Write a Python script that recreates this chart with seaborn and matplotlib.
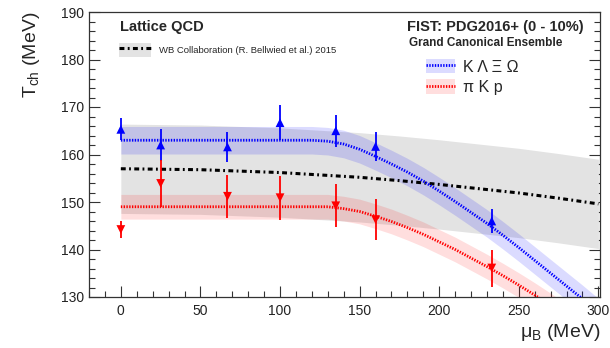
import matplotlib
matplotlib.use("Agg")
import numpy as np
import pandas as pd
import matplotlib.pyplot as plt
import seaborn as sns
from matplotlib.patches import Patch
from matplotlib.lines import Line2D
from matplotlib.ticker import MultipleLocator
from matplotlib.legend_handler import HandlerTuple

# ---------------- data ----------------
mu_points = [0, 25, 67, 100, 135, 160, 233]
T_strange = [165.3, 162.0, 161.6, 166.7, 165.0, 161.7, 146.0]
err_strange = [2.3, 3.3, 3.1, 3.7, 3.4, 3.0, 2.5]
T_light = [144.2, 153.9, 151.2, 150.9, 149.2, 146.3, 136.1]
err_light = [1.8, 4.9, 4.5, 4.6, 4.5, 4.4, 3.9]

mu_curve = [0, 10, 20, 30, 40, 50, 60, 70, 80, 90, 100, 110, 120, 130, 140, 150,
            160, 170, 180, 190, 200, 210, 220, 230, 240, 250, 260, 270, 280, 290, 300]
T_strange_curve = [163.0, 163.0, 163.0, 163.0, 163.0, 163.0, 163.0, 163.0, 163.0, 163.0,
                   163.0, 163.0, 163.0, 162.8, 162.2, 161.1, 159.6, 158.0, 156.3, 154.4,
                   152.3, 150.1, 147.8, 145.5, 143.0, 140.4, 137.7, 135.0, 132.3, 129.6, 126.8]
T_light_curve = [149.0, 149.0, 149.0, 149.0, 149.0, 149.0, 149.0, 149.0, 149.0, 149.0,
                 149.0, 149.0, 149.0, 149.0, 148.6, 148.0, 147.0, 145.9, 144.6, 143.2,
                 141.6, 140.0, 138.2, 136.4, 134.5, 132.5, 130.4, 128.2, 125.9, 123.5, 121.0]
strange_halfwidth = 2.9
light_halfwidth = 2.6

mu_lattice = [0, 25, 50, 75, 100, 125, 150, 175, 200, 225, 250, 275, 300]
T_lattice = [157.0, 156.9, 156.8, 156.5, 156.2, 155.7, 155.2, 154.5, 153.7, 152.8, 151.9, 150.8, 149.6]
lattice_halfwidth = 9.4

x_ticks = [0, 50, 100, 150, 200, 250, 300]
y_ticks = [130, 140, 150, 160, 170, 180, 190]

# ---------------- style ----------------
sns.set_theme(style="ticks")
plt.rcParams["font.family"] = ["Liberation Sans", "DejaVu Sans"]
plt.rcParams["mathtext.fontset"] = "custom"
plt.rcParams["mathtext.rm"] = "Liberation Sans"
plt.rcParams["mathtext.it"] = "Liberation Sans:italic"

W, H = 610, 348
fig = plt.figure(figsize=(W / 100, H / 100), dpi=100)
ax = fig.add_axes([89 / W, 1 - 297 / H, 511 / W, 285 / H])

def fx(px):
    return px / W

def fy(py):
    return 1 - py / H

df_lat = pd.DataFrame({"mu": mu_lattice, "T": T_lattice})
df_lat["lo"] = df_lat["T"] - lattice_halfwidth
df_lat["hi"] = df_lat["T"] + lattice_halfwidth
df_s = pd.DataFrame({"mu": mu_curve, "T": T_strange_curve})
df_l = pd.DataFrame({"mu": mu_curve, "T": T_light_curve})

gray_col = "#e3e3e3"
blue_band = (0.0, 0.0, 1.0, 0.14)
red_band = (1.0, 0.0, 0.0, 0.13)
lat_dash = (1.6, 1.1, 0.6, 1.1)
dot = (0.5, 0.5)

ax.fill_between(df_lat["mu"], df_lat["lo"], df_lat["hi"], color=gray_col, lw=0, zorder=1)
ax.fill_between(df_s["mu"], df_s["T"] - strange_halfwidth, df_s["T"] + strange_halfwidth,
                color=blue_band, lw=0, zorder=2)
ax.fill_between(df_l["mu"], df_l["T"] - light_halfwidth, df_l["T"] + light_halfwidth,
                color=red_band, lw=0, zorder=2)

sns.lineplot(data=df_lat, x="mu", y="T", ax=ax, color="black", lw=2.2,
             zorder=3, estimator=None, sort=False)
ax.lines[-1].set_dashes(lat_dash)
sns.lineplot(data=df_s, x="mu", y="T", ax=ax, color="#0000ff", lw=2.0,
             zorder=4, estimator=None, sort=False)
ax.lines[-1].set_dashes(dot)
sns.lineplot(data=df_l, x="mu", y="T", ax=ax, color="#ff0000", lw=2.0,
             zorder=4, estimator=None, sort=False)
ax.lines[-1].set_dashes(dot)

ax.errorbar(mu_points, T_strange, yerr=err_strange, fmt="none", ecolor="#0000ff",
            elinewidth=1.3, capsize=0, zorder=5)
ax.errorbar(mu_points, T_light, yerr=err_light, fmt="none", ecolor="#ff0000",
            elinewidth=1.3, capsize=0, zorder=5)
sns.scatterplot(x=mu_points, y=T_strange, ax=ax, marker="^", color="#0000ff",
                s=40, edgecolor="none", zorder=6)
sns.scatterplot(x=mu_points, y=T_light, ax=ax, marker="v", color="#ff0000",
                s=40, edgecolor="none", zorder=6)

ax.set_xlim(-20, 301)
ax.set_ylim(130, 190)
ax.set_xticks(x_ticks)
ax.set_yticks(y_ticks)
ax.xaxis.set_minor_locator(MultipleLocator(10))
ax.yaxis.set_minor_locator(MultipleLocator(2))
ax.tick_params(axis="both", which="both", direction="in", colors="#333333",
               labelcolor="#222222", labelsize=10, width=0.8)
ax.tick_params(axis="both", which="major", length=8)
ax.tick_params(axis="both", which="minor", length=4)
ax.tick_params(axis="y", which="both", right=True, left=True)
ax.tick_params(axis="x", which="both", top=False, bottom=True, pad=5)
for sp in ax.spines.values():
    sp.set_visible(True)
    sp.set_color("#333333")
    sp.set_linewidth(0.9)

ax.set_xlabel(r"$\mathregular{\mu_{B}}$ (MeV)", fontsize=14, loc="right", labelpad=3)
ax.set_ylabel(r"$\mathregular{T_{ch}}$ (MeV)", fontsize=14, loc="top", labelpad=14)

fig.text(fx(120), fy(27), "Lattice QCD", fontsize=10.5, fontweight="bold",
         ha="left", va="center")
fig.text(fx(407), fy(27), "FIST: PDG2016+ (0 - 10%)", fontsize=10.5, fontweight="bold",
         ha="left", va="center")
fig.text(fx(486), fy(43), "Grand Canonical Ensemble", fontsize=8.5, fontweight="bold",
         ha="center", va="center")

hmap = {tuple: HandlerTuple(ndivide=1, pad=0)}
h_wb = (Patch(facecolor=gray_col, edgecolor="none"),
        Line2D([], [], color="black", lw=2.2, dashes=lat_dash))
leg1 = ax.legend([h_wb], ["WB Collaboration (R. Bellwied et al.) 2015"],
                 handler_map=hmap,
                 loc="center left", bbox_to_anchor=(fx(119), fy(50)),
                 bbox_transform=fig.transFigure, frameon=False, fontsize=6.8,
                 handlelength=3.4, handleheight=1.9, handletextpad=0.8,
                 borderpad=0, borderaxespad=0)
ax.add_artist(leg1)

h_s = (Patch(facecolor=blue_band, edgecolor="none"),
       Line2D([], [], color="#0000ff", lw=2.0, dashes=dot))
h_l = (Patch(facecolor=red_band, edgecolor="none"),
       Line2D([], [], color="#ff0000", lw=2.0, dashes=dot))
leg2 = ax.legend([h_s, h_l], ["K Λ Ξ Ω", "π K p"],
                 handler_map=hmap,
                 loc="upper left", bbox_to_anchor=(fx(426), fy(59)),
                 bbox_transform=fig.transFigure, frameon=False, fontsize=11.5,
                 handlelength=1.8, handleheight=1.0, handletextpad=0.5,
                 labelspacing=0.3, borderpad=0, borderaxespad=0)

fig.savefig("out.png", dpi=100)
